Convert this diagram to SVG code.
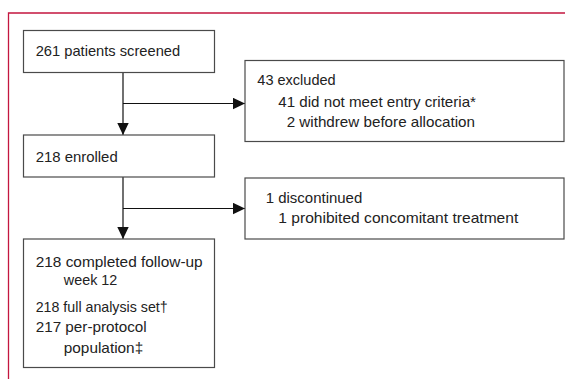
<svg xmlns="http://www.w3.org/2000/svg" width="565" height="379" viewBox="0 0 565 379">
<defs>
<marker id="ah" markerWidth="12" markerHeight="12" viewBox="0 0 12 12" refX="12" refY="6" orient="auto" markerUnits="userSpaceOnUse">
<path d="M0,0.3 L12,6 L0,11.7 Z" fill="#111"/>
</marker>
</defs>
<style>
.frame{fill:none;stroke:#c4163f;stroke-width:1.3}
.box{fill:#fff;stroke:#4a4a4a;stroke-width:1.2}
.conn{fill:none;stroke:#111;stroke-width:1.2}
text{font-family:"Liberation Sans",Arial,sans-serif;font-size:15px;fill:#222}
</style>
<rect width="565" height="379" fill="#fff"/>
<path class="frame" d="M8.5,379 V13 H565"/>
<g id="connectors">
<path class="conn" d="M123,72.5 V135" marker-end="url(#ah)"/>
<path class="conn" d="M123,103.5 H245" marker-end="url(#ah)"/>
<path class="conn" d="M123,177 V239" marker-end="url(#ah)"/>
<path class="conn" d="M123,208.5 H245" marker-end="url(#ah)"/>
</g>
<g id="screened">
<rect class="box" x="23.5" y="30.5" width="191" height="42"/>
<text x="35.7" y="56" textLength="144.5" lengthAdjust="spacingAndGlyphs">261 patients screened</text>
</g>
<g id="excluded">
<rect class="box" x="245" y="60.5" width="319" height="81"/>
<text x="257.3" y="85" textLength="78.4" lengthAdjust="spacingAndGlyphs">43 excluded</text>
<text x="278.3" y="106.7" textLength="197.7" lengthAdjust="spacingAndGlyphs">41 did not meet entry criteria*</text>
<text x="286.7" y="126.7" textLength="188.3" lengthAdjust="spacingAndGlyphs">2 withdrew before allocation</text>
</g>
<g id="enrolled">
<rect class="box" x="23.5" y="135" width="191" height="42"/>
<text x="35.7" y="161.5" textLength="82" lengthAdjust="spacingAndGlyphs">218 enrolled</text>
</g>
<g id="discontinued">
<rect class="box" x="245" y="178" width="319" height="61"/>
<text x="265.7" y="203.3" textLength="96.6" lengthAdjust="spacingAndGlyphs">1 discontinued</text>
<text x="278.3" y="223.3" textLength="240" lengthAdjust="spacingAndGlyphs">1 prohibited concomitant treatment</text>
</g>
<g id="completed">
<rect class="box" x="23.5" y="239" width="191" height="128.5"/>
<text x="35.7" y="267.2" textLength="167" lengthAdjust="spacingAndGlyphs">218 completed follow-up</text>
<text x="63.8" y="285" textLength="53.5" lengthAdjust="spacingAndGlyphs">week 12</text>
<text x="35.7" y="311.7" textLength="132" lengthAdjust="spacingAndGlyphs">218 full analysis set†</text>
<text x="35.7" y="331.5" textLength="111" lengthAdjust="spacingAndGlyphs">217 per-protocol</text>
<text x="63.8" y="353.3" textLength="79.4" lengthAdjust="spacingAndGlyphs">population‡</text>
</g>
</svg>
